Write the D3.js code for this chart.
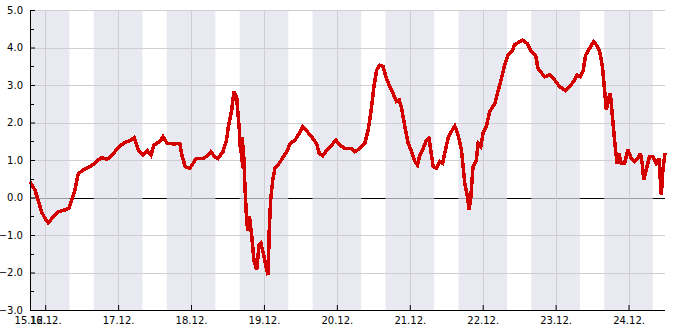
<!DOCTYPE html>
<html>
<head>
<meta charset="utf-8">
<script src="https://cdn.jsdelivr.net/npm/d3@7"></script>
<style>
  body { margin: 0; background: #fff; }
  text { font-family: "DejaVu Sans", sans-serif; font-size: 10px; fill: #000; }
</style>
</head>
<body>
<script>
// hours counted from 15.12. 00:00
var hours = [
  19.0, 20.6, 21.7, 22.8, 23.9, 25.0, 26.1, 27.2, 28.3, 30.5, 31.8, 32.6, 33.8, 34.9, 36.5, 38.7,
  40.3, 42.5, 44.2, 45.3, 46.9, 48.6, 50.2, 51.8, 53.3, 54.6, 56.2, 57.6, 58.8, 59.8, 61.7, 62.8,
  64.2, 66.6, 68.3, 69.0, 70.1, 71.6, 72.7, 73.7, 75.9, 77.0, 78.5, 79.8, 80.9, 82.5, 83.6, 84.3,
  85.4, 86.1, 87.0, 87.9, 88.3, 88.7, 88.9, 89.2, 89.8, 90.3, 90.7, 91.2, 92.0, 92.7, 93.6, 94.4,
  95.0, 95.8, 96.9, 97.4, 97.7, 98.2, 98.9, 99.6, 101.0, 102.4, 103.5, 104.6, 106.2, 107.6, 108.7, 110.2,
  111.7, 113.3, 114.2, 115.3, 116.6, 118.3, 119.7, 121.0, 122.6, 124.8, 125.9, 127.6, 129.2, 130.3, 130.9, 131.4,
  132.2, 133.1, 134.1, 135.2, 136.3, 137.4, 138.5, 139.6, 140.5, 141.3, 142.4, 143.5, 144.6, 145.7, 146.5, 147.3,
  148.4, 149.5, 150.3, 150.9, 151.7, 152.8, 153.9, 154.8, 155.5, 156.6, 157.7, 158.8, 159.9, 161.0, 162.1, 163.0,
  163.5, 164.1, 164.8, 165.9, 166.5, 167.4, 168.1, 169.2, 170.3, 172.0, 173.0, 174.2, 175.2, 176.3, 177.8, 178.5,
  180.2, 181.1, 182.6, 184.0, 185.4, 186.2, 187.0, 188.4, 190.0, 191.7, 193.3, 195.3, 196.6, 197.9, 199.0, 200.1,
  201.0, 201.9, 203.2, 204.5, 205.4, 206.5, 207.4, 208.1, 208.7, 209.2, 210.0, 210.7, 211.4, 212.2, 212.8, 213.6,
  214.7, 215.8, 216.9, 218.0, 219.1, 219.9, 220.5, 221.0, 221.8, 222.9, 224.0, 225.1, 226.0, 226.8, 227.3, 228.0
];
var values = [
  0.42, 0.20, -0.07, -0.38, -0.55, -0.67, -0.57, -0.47, -0.38, -0.33, -0.28, -0.11, 0.20, 0.64, 0.73, 0.82,
  0.91, 1.07, 1.02, 1.07, 1.22, 1.37, 1.47, 1.51, 1.60, 1.27, 1.13, 1.25, 1.13, 1.40, 1.49, 1.62,
  1.44, 1.43, 1.44, 1.13, 0.82, 0.78, 0.91, 1.04, 1.04, 1.09, 1.22, 1.09, 1.04, 1.22, 1.49, 1.89,
  2.33, 2.82, 2.69, 1.80, 1.20, 1.60, 0.80, 1.40, 0.20, -0.60, -0.90, -0.50, -1.04, -1.67, -1.93, -1.27,
  -1.22, -1.49, -1.93, -2.07, -0.96, -0.07, 0.47, 0.78, 0.91, 1.09, 1.22, 1.44, 1.53, 1.71, 1.89, 1.76,
  1.62, 1.44, 1.18, 1.11, 1.25, 1.40, 1.53, 1.40, 1.31, 1.31, 1.22, 1.31, 1.44, 1.80, 2.10, 2.40,
  2.96, 3.40, 3.53, 3.49, 3.18, 2.96, 2.78, 2.56, 2.60, 2.38, 1.89, 1.44, 1.22, 0.96, 0.87, 1.13,
  1.31, 1.53, 1.58, 1.27, 0.82, 0.78, 0.96, 0.91, 1.18, 1.58, 1.76, 1.91, 1.67, 1.27, 0.38, 0.02,
  -0.33, 0.02, 0.82, 1.00, 1.44, 1.36, 1.71, 1.89, 2.29, 2.51, 2.82, 3.18, 3.53, 3.80, 3.93, 4.07,
  4.16, 4.20, 4.11, 3.89, 3.80, 3.44, 3.36, 3.22, 3.27, 3.13, 2.96, 2.85, 2.96, 3.09, 3.27, 3.22,
  3.36, 3.80, 3.98, 4.16, 4.07, 3.89, 3.49, 2.87, 2.33, 2.60, 2.78, 2.16, 1.53, 0.91, 1.18, 0.91,
  0.91, 1.27, 1.04, 0.96, 1.04, 1.18, 0.91, 0.47, 0.73, 1.09, 1.09, 0.91, 1.04, 0.07, 0.73, 1.18
];
var yTicks = [-3, -2, -1, 0, 1, 2, 3, 4, 5];
var yMinorTicks = [-2.5, -1.5, -0.5, 0.5, 1.5, 2.5, 3.5, 4.5];
var startHour = 19;   // 15.12. 19:00
var endHour = 228;    // 24.12. 12:00
var nightStart = 16;  // shaded from 16:00
var nightEnd = 8;     // until 08:00

var base = new Date(2023, 11, 15);
var toDate = function(hr){ return new Date(base.getTime() + hr * 3600000); };

var scr = { w: 685, h: 330 };
var margins = { left: 30, right: 20, top: 10, bottom: 20 };
var w = scr.w - margins.left - margins.right;
var h = scr.h - margins.top - margins.bottom;

var svg = d3.select('body').append('svg')
            .attr('width', scr.w)
            .attr('height', scr.h);
var g = svg.append('g')
           .attr('transform', 'translate(' + margins.left + ',' + margins.top + ')');

var xScale = d3.scaleTime()
               .domain([toDate(startHour), toDate(endHour)])
               .range([0, w]);
var yScale = d3.scaleLinear()
               .domain([-3, 5])
               .range([h, 0]);

g.append('defs').append('clipPath').attr('id', 'clip')
 .append('rect').attr('width', w).attr('height', h);

// zero line first, night bands are laid over it
g.append('line')
 .attr('x1', 0).attr('x2', w)
 .attr('y1', Math.round(yScale(0)) + 0.5).attr('y2', Math.round(yScale(0)) + 0.5)
 .attr('stroke', '#000');

// night bands
var days = d3.range(0, 10);
g.append('g').attr('clip-path', 'url(#clip)')
 .selectAll('rect')
 .data(days)
 .enter()
 .append('rect')
 .attr('x', function(d){ return xScale(toDate(d * 24 + nightStart)); })
 .attr('width', function(d){ return xScale(toDate(d * 24 + 24 + nightEnd)) - xScale(toDate(d * 24 + nightStart)); })
 .attr('y', 0)
 .attr('height', h)
 .attr('fill', 'rgb(223,225,234)')
 .attr('fill-opacity', 0.69);

// grid
var midnights = d3.timeDay.range(toDate(startHour), toDate(endHour));
g.append('g')
 .selectAll('line')
 .data(yTicks.filter(function(d){ return d !== 0 && d !== -3; }))
 .enter()
 .append('line')
 .attr('x1', 0).attr('x2', w)
 .attr('y1', function(d){ return Math.round(yScale(d)) + 0.5; })
 .attr('y2', function(d){ return Math.round(yScale(d)) + 0.5; })
 .attr('stroke', '#cfcfd3');
g.append('g')
 .selectAll('line')
 .data(midnights)
 .enter()
 .append('line')
 .attr('x1', function(d){ return Math.round(xScale(d)) + 0.5; })
 .attr('x2', function(d){ return Math.round(xScale(d)) + 0.5; })
 .attr('y1', 0).attr('y2', h)
 .attr('stroke', '#cfcfd3');

// series
var points = hours.map(function(hr, i){ return { t: toDate(hr), v: values[i] }; });
var line = d3.line()
             .x(function(d){ return xScale(d.t); })
             .y(function(d){ return yScale(d.v); });
g.append('path')
 .datum(points)
 .attr('d', line)
 .attr('fill', 'none')
 .attr('stroke', '#d40000')
 .attr('stroke-width', 3.5)
 .attr('stroke-linejoin', 'miter')
 .attr('stroke-miterlimit', 3)
 .attr('shape-rendering', 'crispEdges');

// axes
var yAxis = d3.axisLeft(yScale)
              .tickValues(yTicks)
              .tickSize(-5)
              .tickPadding(7)
              .tickFormat(d3.format('.1f'));
var yg = g.append('g').call(yAxis);
yg.append('g').selectAll('line')
  .data(yMinorTicks)
  .enter()
  .append('line')
  .attr('x1', 0).attr('x2', 4)
  .attr('y1', function(d){ return Math.round(yScale(d)) + 0.5; })
  .attr('y2', function(d){ return Math.round(yScale(d)) + 0.5; })
  .attr('stroke', '#000');

var xAxis = d3.axisBottom(xScale)
              .tickValues([toDate(startHour)].concat(midnights))
              .tickSize(-5)
              .tickPadding(7)
              .tickFormat(d3.timeFormat('%d.%m.'));
var xg = g.append('g')
          .attr('transform', 'translate(0,' + h + ')')
          .call(xAxis);

svg.selectAll('.domain').attr('stroke', '#000');
svg.selectAll('.tick line').attr('stroke', '#000');
svg.selectAll('.tick text').attr('fill', '#000').style('font-family', '"DejaVu Sans", sans-serif').style('font-size', '10px');
xg.select('.domain').attr('d', 'M0.5,0.5H' + w);
yg.select('.domain').attr('d', 'M0.5,0.5V' + h);
</script>
</body>
</html>
